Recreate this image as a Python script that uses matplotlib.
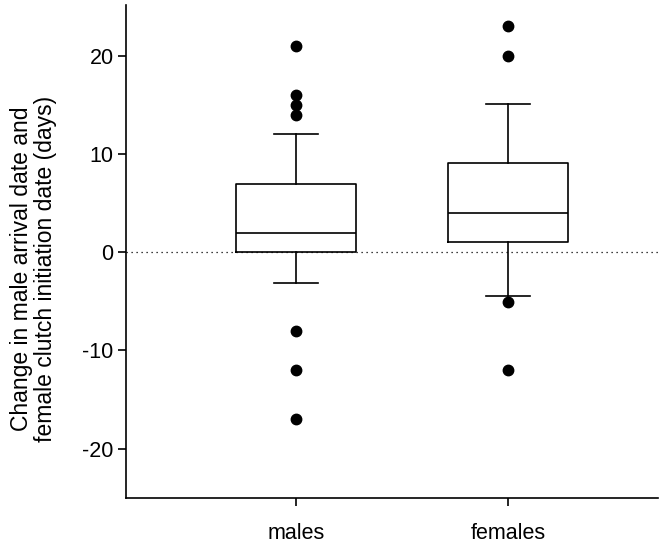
import matplotlib
matplotlib.use("Agg")
import matplotlib.pyplot as plt

plt.rcParams['font.family'] = ['Liberation Sans', 'DejaVu Sans']
plt.rcParams['axes.unicode_minus'] = False

groups = ["males", "females"]
q1 = [0, 1]
med = [2, 4]
q3 = [7, 9.1]
whislo = [-3.1, -4.4]
whishi = [12.1, 15.1]
fliers = [
    [21, 16, 15, 14, -8, -12, -17],
    [23, 20, -5.1, -12],
]

stats = []
for i in range(len(groups)):
    stats.append({
        "label": groups[i], "q1": q1[i], "med": med[i], "q3": q3[i],
        "whislo": whislo[i], "whishi": whishi[i], "fliers": fliers[i],
    })

fig = plt.figure(figsize=(6.64, 5.44), dpi=100)
ax = fig.add_axes([0.19, 0.085, 0.801, 0.906])

line = dict(color="black", linewidth=1.2)
ax.bxp(stats, positions=[1, 2], widths=0.566, capwidths=0.21,
       boxprops=line, whiskerprops=line, capprops=line,
       medianprops=line,
       flierprops=dict(marker="o", markerfacecolor="black",
                       markeredgecolor="black", markersize=7.5))

ax.axhline(0, color="black", linestyle=(0, (1, 3)), linewidth=0.9, zorder=0)

ax.set_xlim(0.198, 2.708)
ax.set_ylim(-25, 25.2)
ax.set_yticks([-20, -10, 0, 10, 20])
ax.set_xticks([1, 2])
ax.set_xticklabels(groups)
ax.spines["top"].set_visible(False)
ax.spines["right"].set_visible(False)
for s in ["left", "bottom"]:
    ax.spines[s].set_linewidth(1.2)
ax.tick_params(direction="out", length=6, width=1.2, labelsize=15.5, pad=3)
ax.tick_params(axis="x", pad=12)
ax.set_ylabel("Change in male arrival date and\nfemale clutch initiation date (days)",
              fontsize=16.5, linespacing=1.05)
ax.yaxis.set_label_coords(-0.13, 0.465)

fig.savefig("out.png", dpi=100)
